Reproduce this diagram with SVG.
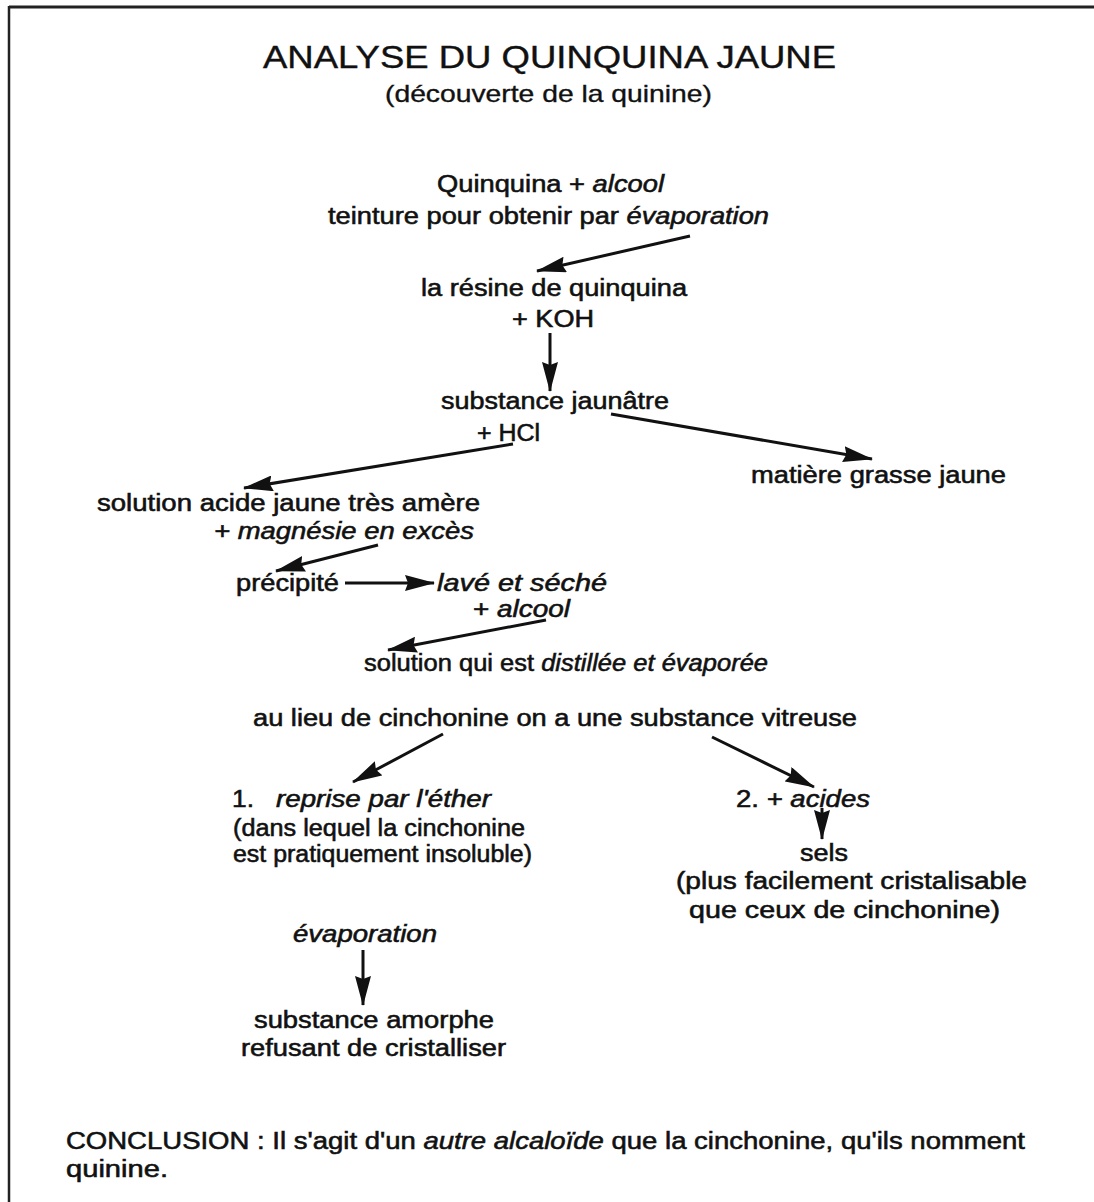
<svg xmlns="http://www.w3.org/2000/svg" width="1094" height="1202" viewBox="0 0 1094 1202">
<defs>
<style>
text{font-family:"Liberation Sans",Arial,sans-serif;fill:#111;font-size:23px;stroke:#111;stroke-width:0.55}
.t{font-size:31px;stroke-width:0.4}
.st{font-size:24px;stroke-width:0.35}
.i{font-style:italic}
.c{stroke:#111;stroke-width:3;fill:none}
</style>
<marker id="ah" viewBox="0 0 30 16" refX="29" refY="8" markerUnits="userSpaceOnUse" markerWidth="30" markerHeight="16" orient="auto">
<path d="M0,0 L30,8 L0,16 L3,8 z" fill="#111"/>
</marker>
</defs>
<rect width="1094" height="1202" fill="#fff"/>
<g id="frame">
<line x1="9" y1="7" x2="1094" y2="7" stroke="#222" stroke-width="2.8"/>
<line x1="9" y1="6" x2="9" y2="1202" stroke="#222" stroke-width="2.5"/>
</g>
<g id="title">
<text class="t" x="263" y="68" textLength="573" lengthAdjust="spacingAndGlyphs">ANALYSE DU QUINQUINA JAUNE</text>
<text class="st" x="385" y="102" textLength="327" lengthAdjust="spacingAndGlyphs">(découverte de la quinine)</text>
</g>
<g id="n1"><text x="437" y="192" textLength="227" lengthAdjust="spacingAndGlyphs">Quinquina + <tspan class="i">alcool</tspan></text>
<text x="328" y="224" textLength="441" lengthAdjust="spacingAndGlyphs">teinture pour obtenir par <tspan class="i">évaporation</tspan></text></g>
<g id="n2"><text x="421" y="296" textLength="266" lengthAdjust="spacingAndGlyphs">la résine de quinquina</text>
<text x="512" y="327" textLength="82" lengthAdjust="spacingAndGlyphs">+ KOH</text></g>
<g id="n3"><text x="441" y="409" textLength="228" lengthAdjust="spacingAndGlyphs">substance jaunâtre</text>
<text x="477" y="441" textLength="63" lengthAdjust="spacingAndGlyphs">+ HCl</text></g>
<g id="n4"><text x="751" y="483" textLength="255" lengthAdjust="spacingAndGlyphs">matière grasse jaune</text></g>
<g id="n5"><text x="97" y="511" textLength="383" lengthAdjust="spacingAndGlyphs">solution acide jaune très amère</text>
<text class="i" x="214" y="539" textLength="260" lengthAdjust="spacingAndGlyphs">+ magnésie en excès</text></g>
<g id="n6"><text x="236" y="591" textLength="103" lengthAdjust="spacingAndGlyphs">précipité</text></g>
<g id="n7"><text class="i" x="437" y="591" textLength="170" lengthAdjust="spacingAndGlyphs">lavé et séché</text>
<text x="473" y="617" textLength="97" lengthAdjust="spacingAndGlyphs">+ <tspan class="i">alcool</tspan></text></g>
<g id="n8"><text x="364" y="671" textLength="404" lengthAdjust="spacingAndGlyphs">solution qui est <tspan class="i">distillée et évaporée</tspan></text></g>
<g id="n9"><text x="253" y="726" textLength="604" lengthAdjust="spacingAndGlyphs">au lieu de cinchonine on a une substance vitreuse</text></g>
<g id="n10"><text x="232" y="807" textLength="22" lengthAdjust="spacingAndGlyphs">1.</text>
<text class="i" x="276" y="807" textLength="215" lengthAdjust="spacingAndGlyphs">reprise par l'éther</text>
<text x="233" y="836" textLength="292" lengthAdjust="spacingAndGlyphs">(dans lequel la cinchonine</text>
<text x="233" y="862" textLength="299" lengthAdjust="spacingAndGlyphs">est pratiquement insoluble)</text></g>
<g id="n11"><text x="736" y="807" textLength="134" lengthAdjust="spacingAndGlyphs">2. <tspan class="i">+ acides</tspan></text></g>
<g id="n12"><text x="800" y="861" textLength="48" lengthAdjust="spacingAndGlyphs">sels</text>
<text x="676" y="889" textLength="351" lengthAdjust="spacingAndGlyphs">(plus facilement cristalisable</text>
<text x="689" y="918" textLength="311" lengthAdjust="spacingAndGlyphs">que ceux de cinchonine)</text></g>
<g id="n13"><text class="i" x="293" y="942" textLength="144" lengthAdjust="spacingAndGlyphs">évaporation</text></g>
<g id="n14"><text x="254" y="1028" textLength="240" lengthAdjust="spacingAndGlyphs">substance amorphe</text>
<text x="241" y="1056" textLength="265" lengthAdjust="spacingAndGlyphs">refusant de cristalliser</text></g>
<g id="conclusion"><text x="66" y="1149" textLength="959" lengthAdjust="spacingAndGlyphs">CONCLUSION : Il s'agit d'un <tspan class="i">autre alcaloïde</tspan> que la cinchonine, qu'ils nomment</text>
<text x="66" y="1177" textLength="102" lengthAdjust="spacingAndGlyphs">quinine.</text></g>
<g id="connectors">
<line class="c" marker-end="url(#ah)" x1="690" y1="236" x2="537" y2="271"/>
<line class="c" marker-end="url(#ah)" x1="550" y1="333" x2="550" y2="391"/>
<line class="c" marker-end="url(#ah)" x1="611" y1="414" x2="872" y2="459"/>
<line class="c" marker-end="url(#ah)" x1="513" y1="444" x2="244" y2="488"/>
<line class="c" marker-end="url(#ah)" x1="378" y1="545" x2="276" y2="571"/>
<line class="c" marker-end="url(#ah)" x1="345" y1="583" x2="434" y2="583"/>
<line class="c" marker-end="url(#ah)" x1="546" y1="620" x2="388" y2="650"/>
<line class="c" marker-end="url(#ah)" x1="443" y1="734" x2="353" y2="782"/>
<line class="c" marker-end="url(#ah)" x1="712" y1="737" x2="814" y2="787"/>
<line class="c" marker-end="url(#ah)" x1="822" y1="808" x2="822" y2="839"/>
<line class="c" marker-end="url(#ah)" x1="363" y1="950" x2="363" y2="1005"/>
</g>
</svg>
